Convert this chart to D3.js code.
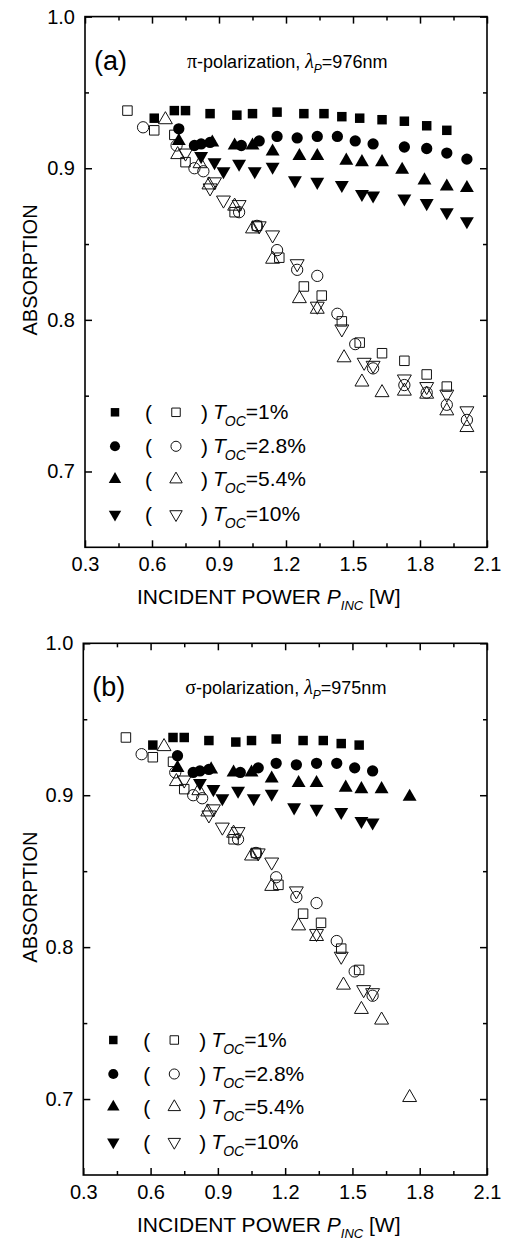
<!DOCTYPE html>
<html><head><meta charset="utf-8">
<script src="https://cdn.jsdelivr.net/npm/d3@7"></script>
<style>body{margin:0;background:#fff} svg{display:block} text{font-family:"Liberation Sans",Arial,sans-serif;fill:#000}</style>
</head><body><svg id="c" width="510" height="1242"></svg>
<script>
// ---------- shared labels / ticks ----------
const legendLabels = ["=1%", "=2.8%", "=5.4%", "=10%"];
const xTicks = [0.3, 0.6, 0.9, 1.2, 1.5, 1.8, 2.1];
const xMinorTicks = [0.45, 0.75, 1.05, 1.35, 1.65, 1.95];
const yTicks = [0.7, 0.8, 0.9, 1.0];
const yMinorTicks = [0.75, 0.85, 0.95];

// ---------- panel (a) : pi-polarization ----------
const aSqX = [0.61,0.70,0.75,0.86,0.98,1.05,1.16,1.28,1.37,1.45,1.53,1.63,1.73,1.83,1.92];
const aSqY = [0.933,0.938,0.938,0.936,0.935,0.936,0.937,0.936,0.936,0.934,0.933,0.932,0.931,0.928,0.925];
const aCiX = [0.72,0.79,0.82,0.86,1.00,1.08,1.16,1.25,1.34,1.43,1.51,1.59,1.73,1.83,1.92,2.01];
const aCiY = [0.926,0.915,0.916,0.917,0.915,0.918,0.921,0.920,0.921,0.921,0.918,0.916,0.914,0.913,0.910,0.906];
const aUpX = [0.72,0.87,0.97,1.05,1.14,1.26,1.34,1.47,1.54,1.63,1.72,1.82,1.92,2.01];
const aUpY = [0.918,0.917,0.915,0.915,0.911,0.908,0.908,0.905,0.904,0.904,0.899,0.892,0.888,0.887];
const aDnX = [0.82,0.88,0.92,0.99,1.06,1.14,1.24,1.34,1.45,1.54,1.59,1.73,1.83,1.92,2.01];
const aDnY = [0.908,0.904,0.898,0.903,0.898,0.901,0.892,0.891,0.889,0.883,0.882,0.880,0.877,0.871,0.865];
const aOSqX = [0.49,0.61,0.70,0.75,0.97,1.07,1.17,1.28,1.36,1.45,1.53,1.63,1.73,1.83,1.92];
const aOSqY = [0.938,0.925,0.922,0.904,0.871,0.862,0.841,0.822,0.816,0.799,0.785,0.778,0.773,0.764,0.756];
const aOCiX = [0.56,0.71,0.79,0.83,0.99,1.07,1.16,1.25,1.34,1.43,1.51,1.59,1.73,1.83,1.92,2.01];
const aOCiY = [0.927,0.915,0.900,0.898,0.871,0.862,0.846,0.833,0.829,0.804,0.784,0.768,0.757,0.752,0.744,0.734];
const aOUpX = [0.66,0.715,0.815,0.855,0.97,1.05,1.14,1.26,1.34,1.46,1.54,1.63,1.73,1.83,1.92,2.01];
const aOUpY = [0.932,0.909,0.903,0.889,0.875,0.860,0.840,0.814,0.807,0.775,0.759,0.752,0.753,0.751,0.740,0.729];
const aODnX = [0.75,0.86,0.88,0.92,0.99,1.08,1.14,1.25,1.34,1.45,1.55,1.59,1.73,1.83,1.92,2.01];
const aODnY = [0.910,0.887,0.891,0.879,0.876,0.862,0.856,0.837,0.809,0.794,0.772,0.770,0.761,0.756,0.751,0.740];

// ---------- panel (b) : sigma-polarization ----------
const bSqX = [0.61,0.70,0.75,0.86,0.98,1.05,1.16,1.28,1.37,1.45,1.53];
const bSqY = [0.933,0.938,0.938,0.936,0.935,0.936,0.937,0.936,0.936,0.934,0.933];
const bCiX = [0.72,0.79,0.82,0.86,1.00,1.08,1.16,1.25,1.34,1.43,1.51,1.59];
const bCiY = [0.926,0.915,0.916,0.917,0.915,0.918,0.921,0.920,0.921,0.921,0.918,0.916];
const bUpX = [0.72,0.87,0.97,1.05,1.14,1.26,1.34,1.47,1.54,1.63,1.755];
const bUpY = [0.918,0.917,0.915,0.915,0.911,0.908,0.908,0.905,0.904,0.904,0.899];
const bDnX = [0.82,0.88,0.92,0.99,1.06,1.14,1.24,1.34,1.45,1.54,1.59];
const bDnY = [0.908,0.904,0.898,0.903,0.898,0.901,0.892,0.891,0.889,0.883,0.882];
const bOSqX = [0.49,0.61,0.70,0.75,0.97,1.07,1.17,1.28,1.36,1.45,1.53];
const bOSqY = [0.938,0.925,0.922,0.904,0.871,0.862,0.841,0.822,0.816,0.799,0.785];
const bOCiX = [0.56,0.71,0.79,0.83,0.99,1.07,1.16,1.25,1.34,1.43,1.51,1.59];
const bOCiY = [0.927,0.915,0.900,0.898,0.871,0.862,0.846,0.833,0.829,0.804,0.784,0.768];
const bOUpX = [0.66,0.715,0.815,0.855,0.97,1.05,1.14,1.26,1.34,1.46,1.54,1.63,1.755];
const bOUpY = [0.932,0.909,0.903,0.889,0.875,0.860,0.840,0.814,0.807,0.775,0.759,0.752,0.701];
const bODnX = [0.75,0.86,0.88,0.92,0.99,1.08,1.14,1.25,1.34,1.45,1.55,1.59];
const bODnY = [0.910,0.887,0.891,0.879,0.876,0.862,0.856,0.837,0.809,0.794,0.772,0.770];

const zip = (xs, ys) => xs.map((x, i) => ({x, y: ys[i]}));
const shapes = ["square", "circle", "up", "down"];

const svg = d3.select("#c");

function symPath(shape, legend) {
  const k = legend ? 0.8 : 1;
  if (shape === "square") return d3.symbol().type(d3.symbolSquare).size(90 * k)();
  if (shape === "circle") return d3.symbol().type(d3.symbolCircle).size(100 * k)();
  return d3.symbol().type(d3.symbolTriangle).size(84 * k)();
}
function drawSym(g, shape, open, legend) {
  return g.append("path")
    .attr("d", symPath(shape, legend))
    .attr("fill", open ? "none" : "#000")
    .attr("stroke", open ? "#111" : "none")
    .attr("stroke-width", open ? 1 : 0);
}

function drawPanel(cfg) {
  const x = d3.scaleLinear().domain([0.3, 2.1]).range([cfg.left, cfg.right]);
  const y = d3.scaleLinear().domain([0.65, 1.0]).range([cfg.bottom, cfg.top]);
  const g = svg.append("g");
  const W = cfg.right - cfg.left, H = cfg.bottom - cfg.top;

  const fmt = d3.format(".1f");
  g.append("g").attr("transform", `translate(0,${cfg.bottom})`)
    .call(d3.axisBottom(x).tickValues(xTicks).tickFormat(fmt).tickSize(-7).tickPadding(10));
  g.append("g").attr("transform", `translate(0,${cfg.bottom})`)
    .call(d3.axisBottom(x).tickValues(xMinorTicks).tickFormat("").tickSize(-4));
  g.append("g").attr("transform", `translate(0,${cfg.top})`)
    .call(d3.axisTop(x).tickValues(xTicks).tickFormat("").tickSize(-7));
  g.append("g").attr("transform", `translate(0,${cfg.top})`)
    .call(d3.axisTop(x).tickValues(xMinorTicks).tickFormat("").tickSize(-4));
  g.append("g").attr("transform", `translate(${cfg.left},0)`)
    .call(d3.axisLeft(y).tickValues(yTicks).tickFormat(fmt).tickSize(-7).tickPadding(10));
  g.append("g").attr("transform", `translate(${cfg.left},0)`)
    .call(d3.axisLeft(y).tickValues(yMinorTicks).tickFormat("").tickSize(-4));
  g.append("g").attr("transform", `translate(${cfg.right},0)`)
    .call(d3.axisRight(y).tickValues(yTicks).tickFormat("").tickSize(-7));
  g.append("g").attr("transform", `translate(${cfg.right},0)`)
    .call(d3.axisRight(y).tickValues(yMinorTicks).tickFormat("").tickSize(-4));
  g.selectAll(".domain").remove();
  g.selectAll(".tick line").attr("stroke", "#000").attr("stroke-width", 1.5);
  g.selectAll(".tick text").attr("font-size", 20).attr("font-family", "Liberation Sans, Arial, sans-serif").attr("fill", "#000");

  g.append("rect").attr("x", cfg.left).attr("y", cfg.top).attr("width", W).attr("height", H)
    .attr("fill", "none").attr("stroke", "#000").attr("stroke-width", 1.6);

  cfg.open.forEach((pts, i) => {
    g.append("g").selectAll("path").data(pts).join("path")
      .attr("d", symPath(shapes[i], false))
      .attr("transform", d => `translate(${x(d.x)},${y(d.y)})` + (shapes[i] === "down" ? " rotate(180)" : ""))
      .attr("fill", "none").attr("stroke", "#111").attr("stroke-width", 1);
  });
  cfg.filled.forEach((pts, i) => {
    g.append("g").selectAll("path").data(pts).join("path")
      .attr("d", symPath(shapes[i], false))
      .attr("transform", d => `translate(${x(d.x)},${y(d.y)})` + (shapes[i] === "down" ? " rotate(180)" : ""))
      .attr("fill", "#000");
  });

  g.append("text").attr("x", cfg.left + 9).attr("y", cfg.top + 53).attr("font-size", 27).text(cfg.tag);
  const st = g.append("text").attr("x", cfg.left + 102).attr("y", cfg.top + 51).attr("font-size", 18);
  st.append("tspan").attr("font-family", "Liberation Serif, serif").attr("font-size", 20).text(cfg.greek);
  st.append("tspan").text("-polarization, ");
  st.append("tspan").attr("font-family", "Liberation Serif, serif").attr("font-style", "italic").attr("font-size", 20).text("λ");
  st.append("tspan").attr("font-style", "italic").attr("font-size", 12).attr("dy", 5).text("P");
  st.append("tspan").attr("dy", -5).text(cfg.wl);

  const rowsFromBottom = [135, 101, 68, 33];
  shapes.forEach((s, i) => {
    const cy = cfg.bottom - rowsFromBottom[i];
    const lg = g.append("g");
    drawSym(lg, s, false, true).attr("transform", `translate(${cfg.left + 30},${cy})` + (s === "down" ? " rotate(180)" : ""));
    lg.append("text").attr("x", cfg.left + 60).attr("y", cy + 8).attr("font-size", 21).text("(");
    drawSym(lg, s, true, true).attr("transform", `translate(${cfg.left + 91},${cy})` + (s === "down" ? " rotate(180)" : ""));
    lg.append("text").attr("x", cfg.left + 116).attr("y", cy + 8).attr("font-size", 21).text(")");
    const t = lg.append("text").attr("x", cfg.left + 128).attr("y", cy + 7).attr("font-size", 21);
    t.append("tspan").attr("font-style", "italic").text("T");
    t.append("tspan").attr("font-style", "italic").attr("font-size", 14).attr("dy", 7).attr("dx", -1).text("OC");
    t.append("tspan").attr("dy", -7).text(legendLabels[i]);
  });

  const xt = g.append("text").attr("x", 137).attr("y", cfg.bottom + 57).attr("font-size", 21);
  xt.append("tspan").text("INCIDENT POWER ");
  xt.append("tspan").attr("font-style", "italic").text("P");
  xt.append("tspan").attr("font-style", "italic").attr("font-size", 13).attr("dy", 6).text("INC");
  xt.append("tspan").attr("dy", -6).text(" [W]");
  g.append("text").attr("transform", `translate(37,${(cfg.top + cfg.bottom) / 2 - 12}) rotate(-90)`)
    .attr("text-anchor", "middle").attr("font-size", 20).text("ABSORPTION");
}

drawPanel({
  left: 85, right: 487, top: 16.6, bottom: 547.3, tag: "(a)", greek: "π", wl: "=976nm",
  filled: [zip(aSqX, aSqY), zip(aCiX, aCiY), zip(aUpX, aUpY), zip(aDnX, aDnY)],
  open: [zip(aOSqX, aOSqY), zip(aOCiX, aOCiY), zip(aOUpX, aOUpY), zip(aODnX, aODnY)]
});
drawPanel({
  left: 83.3, right: 487, top: 643.3, bottom: 1175, tag: "(b)", greek: "σ", wl: "=975nm",
  filled: [zip(bSqX, bSqY), zip(bCiX, bCiY), zip(bUpX, bUpY), zip(bDnX, bDnY)],
  open: [zip(bOSqX, bOSqY), zip(bOCiX, bOCiY), zip(bOUpX, bOUpY), zip(bODnX, bODnY)]
});
</script></body></html>
